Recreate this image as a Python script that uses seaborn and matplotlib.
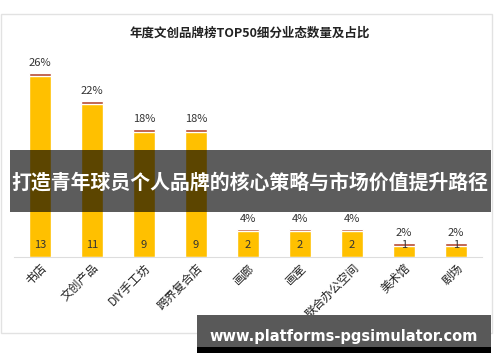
import matplotlib
matplotlib.use("Agg")
import matplotlib.pyplot as plt
import seaborn as sns
import pandas as pd
from matplotlib.patches import Rectangle

categories = ["书店", "文创产品", "DIY手工坊", "跨界复合店", "画廊", "画室", "联合办公空间", "美术馆", "剧场"]
counts = [13, 11, 9, 9, 2, 2, 2, 1, 1]
shares = ["26%", "22%", "18%", "18%", "4%", "4%", "4%", "2%", "2%"]
title = "年度文创品牌榜TOP50细分业态数量及占比"
banner = "打造青年球员个人品牌的核心策略与市场价值提升路径"
url = "www.platforms-pgsimulator.com"

sns.set_theme(style="white")
plt.rcParams['font.family'] = ['Noto Sans CJK SC', 'DejaVu Sans']

df = pd.DataFrame({"cat": categories, "n": counts})

W, H = 500, 362
fig = plt.figure(figsize=(5, 3.62), dpi=100)
fig.patch.set_facecolor("white")

# card border
fig.add_artist(Rectangle((1 / W, 1 - 333 / H), 491 / W, 319 / H, transform=fig.transFigure,
                         facecolor="white", edgecolor="#e2e2e2", lw=1, zorder=0))

ax = fig.add_axes([14 / W, 1 - 257 / H, 468 / W, 207 / H])
ax.set_facecolor("none")
sns.barplot(data=df, x="cat", y="n", color="#FFC000", width=0.41, saturation=1, ax=ax, zorder=2)
cap = 0.2
ax.bar(range(len(counts)), [cap] * len(counts), bottom=[c - cap for c in counts],
       width=0.41, color="#B5472F", zorder=3)
ax.set_xlim(-0.5, len(counts) - 0.5)
ax.set_ylim(0, 14.6)
for s in ["top", "right", "left"]:
    ax.spines[s].set_visible(False)
ax.spines["bottom"].set_color("#dddddd")
ax.spines["bottom"].set_linewidth(0.8)
ax.set_yticks([])
ax.set_xlabel("")
ax.set_ylabel("")
ax.tick_params(axis="x", length=0, pad=3)
ax.set_xticks(range(len(categories)))
ax.set_xticklabels(categories, rotation=45, ha="right", rotation_mode="anchor",
                   fontsize=8.5, color="#222222")

for i, (c, s) in enumerate(zip(counts, shares)):
    ax.text(i, 0.85, str(c), ha="center", va="center", fontsize=8, color="#333333", zorder=4)
    ax.text(i, c + 0.35, s, ha="center", va="bottom", fontsize=8, color="#333333", zorder=4)

fig.text(250 / W, 1 - 33 / H, title, ha="center", va="center", fontsize=9,
         fontweight="bold", color="#222222")

# top banner
fig.add_artist(Rectangle((10 / W, 1 - 212 / H), 481 / W, 62 / H, transform=fig.transFigure,
                         facecolor="black", alpha=0.64, edgecolor="none", zorder=10))
fig.text(250 / W, 1 - 182 / H, banner, ha="center", va="center", fontsize=14.3,
         fontweight="bold", color="white", zorder=11)

# bottom banner
fig.add_artist(Rectangle((197 / W, 1 - 347 / H), 294 / W, 32 / H, transform=fig.transFigure,
                         facecolor="#595959", edgecolor="none", zorder=10))
fig.add_artist(Rectangle((197 / W, 1 - 353 / H), 294 / W, 6 / H, transform=fig.transFigure,
                         facecolor="black", edgecolor="none", zorder=10))
fig.text(344 / W, 1 - 336 / H, url, ha="center", va="center", fontsize=10.5,
         fontweight="bold", color="white", family="DejaVu Sans", zorder=11)

fig.savefig("out.png", dpi=100)
